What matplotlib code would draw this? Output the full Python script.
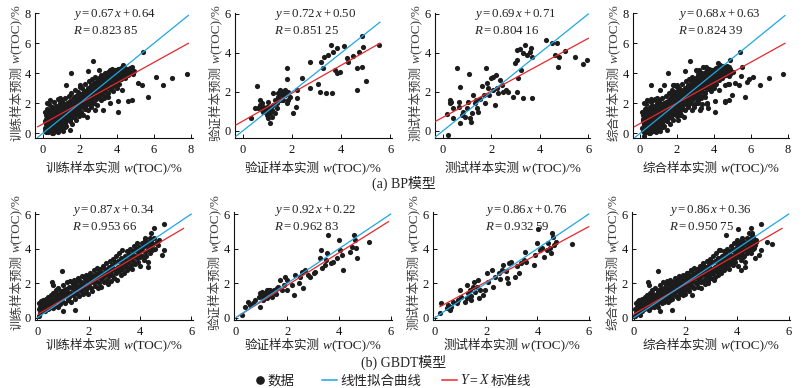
import numpy as np
import matplotlib
matplotlib.use("Agg")
import matplotlib.pyplot as plt
from matplotlib.lines import Line2D

plt.rcParams['font.family'] = ['Liberation Serif', 'Noto Sans CJK SC']
plt.rcParams['mathtext.fontset'] = 'custom'
plt.rcParams['mathtext.rm'] = 'Liberation Serif'
plt.rcParams['mathtext.it'] = 'Liberation Serif:italic'

# ---------------- data ----------------
bp_train = np.array([
    (0.12,0.35),(0.15,0.8),(0.18,1.2),(0.2,0.1),(0.22,0.55),(0.25,1.6),(0.28,0.9),(0.3,0.3),(0.32,1.95),(0.35,0.65),
    (0.38,1.1),(0.4,0.2),(0.42,1.45),(0.45,0.85),(0.48,0.45),(0.5,1.3),(0.52,1.75),(0.55,0.05),(0.58,0.7),(0.6,1.05),
    (0.62,2.1),(0.65,1.5),(0.68,0.35),(0.7,0.95),(0.72,1.85),(0.75,1.2),(0.78,0.6),(0.8,2.3),(0.82,1.6),(0.85,0.25),
    (0.88,1.0),(0.9,1.4),(0.92,2.0),(0.95,0.75),(0.98,1.75),(1.0,0.45),(1.0,1.2),(1.02,2.2),(1.05,0.9),(1.08,1.55),
    (1.1,0.15),(1.12,1.9),(1.15,1.3),(1.18,0.7),(1.2,2.35),(1.22,1.05),(1.25,1.65),(1.28,0.5),(1.3,2.0),(1.32,1.4),
    (1.35,0.95),(1.38,1.8),(1.4,2.5),(1.42,1.2),(1.45,0.8),(1.48,1.55),(1.5,2.15),(1.5,1.0),(1.52,1.85),(1.55,2.7),
    (1.58,1.35),(1.6,0.6),(1.62,2.3),(1.65,1.7),(1.68,1.1),(1.7,2.05),(1.72,2.9),(1.75,1.5),(1.78,0.9),(1.8,2.5),
    (1.82,1.9),(1.85,1.3),(1.88,2.2),(1.9,2.75),(1.92,1.6),(1.95,2.0),(1.98,1.15),(2.0,2.4),(2.0,3.2),(2.02,1.8),
    (2.05,2.15),(2.08,1.45),(2.1,2.6),(2.12,3.0),(2.15,1.95),(2.18,2.35),(2.2,1.2),(2.22,2.8),(2.25,2.1),(2.28,1.65),
    (2.3,3.3),(2.32,2.45),(2.35,1.9),(2.38,2.7),(2.4,2.25),(2.42,3.05),(2.45,1.55),(2.48,2.55),(2.5,2.0),(2.5,3.5),
    (2.52,2.85),(2.55,2.3),(2.58,3.2),(2.6,1.85),(2.62,2.65),(2.65,3.6),(2.68,2.1),(2.7,2.95),(2.72,2.45),(2.75,3.35),
    (2.78,2.0),(2.8,2.8),(2.82,3.75),(2.85,2.3),(2.88,3.1),(2.9,2.6),(2.92,3.5),(2.95,1.9),(2.98,2.9),(3.0,3.3),
    (3.02,2.4),(3.05,3.7),(3.08,2.75),(3.1,3.1),(3.12,2.2),(3.15,3.9),(3.18,2.95),(3.2,3.4),(3.22,2.6),(3.25,3.75),
    (3.28,3.0),(3.3,2.35),(3.32,3.55),(3.35,4.0),(3.38,2.85),(3.4,3.25),(3.42,2.5),(3.45,3.85),(3.48,3.1),(3.5,3.6),
    (3.52,2.7),(3.55,4.1),(3.58,3.35),(3.6,3.8),(3.62,2.95),(3.65,4.2),(3.68,3.5),(3.7,3.05),(3.72,3.95),(3.75,4.3),
    (3.78,3.3),(3.8,3.7),(3.82,2.8),(3.85,4.05),(3.88,3.45),(3.9,4.25),(3.92,3.15),(3.95,3.85),(3.98,4.0),(4.0,3.55),
    (4.05,4.3),(4.08,3.75),(4.1,3.3),(4.12,4.1),(4.15,3.9),(4.2,4.35),(4.22,3.6),(4.25,4.0),(4.3,3.8),(4.32,4.2),
    (4.38,3.95),(4.4,4.4),(4.45,3.7),(4.5,4.1),(4.55,4.3),(4.6,3.9),(4.65,4.2),(4.7,4.35),(4.75,4.05),(4.8,4.25),
    (4.85,3.95),(4.9,4.15),
    (0.2,0.6),(0.3,1.0),(0.35,0.2),(0.4,0.8),(0.45,1.2),(0.5,0.5),(0.55,1.0),(0.6,0.4),(0.65,0.8),(0.7,1.3),
    (0.75,0.5),(0.8,1.0),(0.85,1.7),(0.9,0.6),(0.95,1.2),(1.0,1.6),(1.05,0.6),(1.1,1.0),(1.15,1.6),(1.2,0.9),
    (1.25,1.3),(1.3,1.1),(1.35,1.6),(1.4,1.0),(1.45,1.4),(1.5,1.7),(1.55,1.2),(1.6,1.9),(1.65,1.45),(1.7,1.8),
    (1.75,2.2),(1.8,1.6),(1.85,2.0),(1.9,1.4),(1.95,2.3),(2.0,1.9),(2.05,2.6),(2.1,1.8),(2.15,2.3),(2.2,2.0),
    (2.25,2.6),(2.3,2.2),(2.35,2.5),(2.4,2.0),(2.45,2.8),(2.5,2.4),(2.55,2.7),(2.6,2.3),(2.65,2.9),(2.7,2.6),
    (2.8,3.1),(2.9,2.8),(3.0,3.0),(3.1,3.4),(3.2,3.2),(3.3,3.5),(3.4,3.4),(3.5,3.9),(3.6,3.6),(3.7,4.1),
    (3.8,3.9),(3.9,3.7),(4.0,4.2),
    (0.25,0.35),(0.4,1.6),(0.55,1.45),(0.6,0.75),(0.7,0.15),(0.75,1.55),(0.9,1.1),(1.0,0.85),(1.12,1.45),(1.25,0.95),
    (1.3,1.75),(1.4,1.35),(1.55,1.6),(1.6,1.1),(1.7,1.35),(1.75,1.85),(1.9,1.8),(2.05,1.75),(2.15,2.1),(2.3,1.75),
    (0.15,0.15),(0.18,0.95),(0.25,1.25),(0.3,0.6),(0.35,1.4),(0.42,0.3),(0.5,0.9),(0.55,1.6),(0.62,0.25),(0.68,1.1),
    (0.72,0.75),(0.78,1.35),(0.82,0.4),(0.88,1.85),(0.92,1.3),(0.98,0.3),(1.05,1.4),(1.08,2.0),(1.15,0.85),(1.18,1.5),
    (1.22,0.4),(1.28,1.9),(1.35,1.25),(1.42,2.1),(1.48,0.9),(1.52,1.35),(1.58,2.05),(1.62,1.55),(1.68,2.4),(1.72,1.25),
    (1.78,2.05),(1.82,1.45),(1.88,1.75),(1.92,2.15),(1.98,2.55),(2.12,2.25),(2.2,2.5),(2.28,2.85),(2.38,2.15),(2.45,2.4),
    (2.58,2.55),(2.68,2.75),(2.78,3.05),(2.88,2.45),(2.98,3.15),(3.08,2.95),(3.18,3.55),(3.28,3.3),(3.38,3.7),(3.48,3.45),
    (3.58,3.95),(3.68,3.75),(3.78,4.05),(3.88,4.15),(3.98,3.85),(4.1,4.05),(4.25,4.2),(4.4,4.15),(4.55,3.95),(4.7,4.0),
    (5.4,5.44),(2.73,4.82),(1.53,4.0),(2.46,4.16),(3.04,4.22),(6.12,3.73),(6.51,3.22),(7.0,3.67),(7.77,3.96),(5.67,2.44),
    (4.8,2.22),(4.62,2.18),(4.08,1.44),(5.16,3.33),(5.34,3.22),(4.26,2.89),(4.03,3.0),(3.54,2.44),(3.27,1.55),(3.09,2.56),
    (2.82,1.56),(2.6,1.78),(2.37,1.11),(1.47,0.22),(1.2,0.67),(0.85,0.1),(0.49,0.0),(0.31,0.11),(0.12,1.44),(0.22,2.0),
    (0.4,2.22),(0.94,2.33),(1.28,3.25),(2.01,3.11),(4.8,4.44),(4.89,4.11),(4.35,4.56),(3.63,2.0),(4.08,2.18),
])

bp_val = np.array([
    (0.33,0.65),(0.57,2.3),(0.5,1.16),(0.7,1.6),(0.77,1.42),(0.84,1.25),(0.9,1.0),(0.98,0.82),(1.04,0.65),(1.11,0.39),
    (1.04,1.5),(1.18,1.08),(1.25,1.93),(1.31,0.9),(1.38,1.42),(1.45,1.76),(1.52,2.1),(1.58,1.59),(1.65,2.02),(1.72,1.85),
    (1.79,2.67),(1.82,3.21),(1.86,1.59),(1.92,1.76),(2.06,0.9),(2.17,1.25),(2.19,1.68),(2.22,2.1),(2.4,2.7),(2.74,3.56),
    (2.74,2.19),(3.08,2.41),(3.14,2.02),(3.2,3.56),(3.25,3.21),(3.3,3.78),(3.38,1.93),(3.48,3.9),(3.58,4.41),(3.62,1.93),
    (3.68,4.07),(3.75,3.13),(3.82,4.24),(3.82,2.96),(3.96,3.04),(4.12,4.36),(4.23,3.73),(4.3,3.56),(4.47,3.85),(4.63,2.1),
    (4.63,3.21),(4.74,4.07),(4.84,3.3),(4.86,4.87),(4.9,4.32),(5.0,2.58),(5.55,4.41),
    (0.64,1.16),(0.7,1.33),(0.77,1.08),(0.84,0.99),(0.98,1.08),(0.98,1.25),(1.11,0.9),(1.18,0.74),(1.11,1.16),(1.25,1.33),
    (1.31,1.59),(1.38,1.16),(1.45,1.93),(1.52,1.59),(1.58,1.85),(1.65,1.59),(1.72,2.1),(1.79,1.42),(1.86,2.02),
])

bp_test = np.array([
    (0.23,-0.2),(0.16,0.87),(0.3,1.59),(0.33,1.5),(0.3,1.42),(0.44,1.16),(0.41,0.65),(0.58,3.21),(0.65,1.5),(0.69,1.25),
    (0.71,2.24),(0.71,0.39),(0.78,0.82),(0.85,0.99),(0.92,0.74),(0.99,1.16),(1.06,1.5),(1.1,2.92),(1.13,0.65),(1.15,0.48),
    (1.2,0.9),(1.24,1.85),(1.33,1.42),(1.37,1.59),(1.4,1.16),(1.47,0.99),(1.54,1.62),(1.6,2.31),(1.68,1.85),(1.74,1.42),
    (1.79,3.21),(1.81,2.44),(1.88,2.19),(1.92,1.85),(1.98,2.7),(2.06,2.79),(2.09,2.1),(2.16,1.33),(2.2,2.87),(2.25,2.19),
    (2.29,1.93),(2.36,2.62),(2.43,2.36),(2.5,2.02),(2.61,2.1),(2.71,2.02),(2.91,1.76),(3.05,2.02),(3.12,2.7),(2.98,3.47),
    (3.05,3.64),(3.08,4.15),(3.19,4.19),(3.21,3.13),(3.3,3.98),(3.32,1.68),(3.39,4.41),(3.46,3.9),(3.6,4.07),(3.63,4.24),
    (3.69,1.68),(3.66,3.81),(4.24,4.67),(4.49,4.5),(4.63,3.9),(4.7,4.5),(4.77,3.3),(4.81,3.81),(5.04,4.12),(5.45,3.81),
    (5.77,3.44),(5.93,3.64),
])

gb_train = np.array([
    (0.05,0.5),(0.08,0.85),(0.1,0.3),(0.12,0.65),(0.15,0.95),(0.18,0.45),(0.2,0.75),(0.22,1.05),(0.25,0.55),(0.28,0.85),
    (0.3,0.4),(0.32,1.1),(0.35,0.7),(0.38,0.95),(0.4,0.5),(0.42,1.2),(0.45,0.8),(0.48,1.0),(0.5,0.6),(0.52,1.3),
    (0.55,0.85),(0.58,1.1),(0.6,0.55),(0.62,1.45),(0.65,0.9),(0.68,1.2),(0.7,0.7),(0.72,1.6),(0.75,1.0),(0.78,1.3),
    (0.8,0.6),(0.82,1.75),(0.85,1.1),(0.88,1.4),(0.9,0.8),(0.92,1.55),(0.95,1.2),(0.98,0.95),(1.0,1.5),(1.02,1.9),
    (1.05,1.25),(1.08,0.85),(1.1,1.65),(1.12,1.35),(1.15,2.05),(1.18,1.0),(1.2,1.5),(1.22,1.8),(1.25,1.2),(1.28,2.1),
    (1.3,1.45),(1.32,0.9),(1.35,1.7),(1.38,1.95),(1.4,1.3),(1.42,2.2),(1.45,1.6),(1.48,1.1),(1.5,1.85),(1.52,2.05),
    (1.55,1.4),(1.58,1.7),(1.6,2.3),(1.62,1.25),(1.65,1.9),(1.68,2.15),(1.7,1.55),(1.72,1.8),(1.75,2.4),(1.78,1.35),
    (1.8,2.0),(1.82,1.7),(1.85,2.25),(1.88,1.5),(1.9,2.5),(1.92,1.85),(1.95,2.1),(1.98,1.4),(2.0,2.35),(2.02,1.95),
    (2.05,2.6),(2.08,1.7),(2.1,2.2),(2.12,2.45),(2.15,1.55),(2.18,2.05),(2.2,2.75),(2.22,2.3),(2.25,1.85),(2.28,2.55),
    (2.3,2.1),(2.32,2.9),(2.35,1.7),(2.38,2.4),(2.4,2.65),(2.42,2.0),(2.45,2.85),(2.48,2.25),(2.5,1.8),(2.52,2.6),
    (2.55,3.0),(2.58,2.35),(2.6,2.05),(2.62,2.8),(2.65,2.5),(2.68,3.15),(2.7,2.2),(2.72,2.7),(2.75,1.95),(2.78,2.95),
    (2.8,2.4),(2.82,3.3),(2.85,2.65),(2.88,2.1),(2.9,3.05),(2.92,2.5),(2.95,3.4),(2.98,2.8),(3.0,2.3),(3.02,3.2),
    (3.05,2.6),(3.08,3.6),(3.1,2.9),(3.12,2.2),(3.15,3.3),(3.18,2.7),(3.2,3.75),(3.22,3.0),(3.25,2.45),(3.28,3.45),
    (3.3,2.85),(3.32,3.9),(3.35,3.15),(3.38,2.6),(3.4,3.6),(3.42,3.0),(3.45,3.35),(3.48,2.75),(3.5,3.85),(3.52,3.2),
    (3.55,2.9),(3.58,3.7),(3.6,3.4),(3.62,4.0),(3.65,3.05),(3.68,3.55),(3.7,2.8),(3.72,3.85),(3.75,3.3),(3.78,4.15),
    (3.8,3.6),(3.82,3.1),(3.85,3.95),(3.88,3.45),(3.9,4.3),(3.92,3.2),(3.95,3.75),(3.98,4.1),(4.0,3.5),(4.02,3.0),
    (4.05,3.9),(4.08,4.35),(4.1,3.6),(4.12,4.1),(4.15,3.35),(4.18,4.5),(4.2,3.8),(4.22,4.2),(4.25,3.55),(4.28,4.4),
    (4.3,3.95),(4.32,3.2),(4.35,4.3),(4.38,4.6),(4.4,3.75),(4.42,4.15),(4.45,4.45),(4.48,3.9),(4.5,4.25),(4.55,4.6),
    (4.6,4.0),(4.65,4.4),(4.7,4.2),(4.75,4.5),
    (0.15,0.6),(0.3,0.75),(0.45,0.55),(0.6,0.95),(0.75,1.35),(0.9,1.05),(1.05,1.6),(1.2,1.15),(1.35,1.4),(1.5,1.5),
    (1.65,1.65),(1.8,1.85),(1.95,1.75),(2.1,2.4),(2.25,2.2),(2.4,2.35),(2.55,2.45),(2.7,2.55),(2.85,2.9),(3.0,2.75),
    (3.15,2.95),(3.3,3.2),(3.45,3.1),(3.6,3.55),(3.75,3.6),(3.9,3.85),
    (0.95,2.7),(4.92,5.42),(4.86,3.63),(4.92,3.92),(4.3,2.92),(1.47,0.45),(1.02,0.4),(0.23,0.93),(4.53,5.17),(4.2,4.6),
    (4.45,4.9),(0.56,2.08),(0.6,1.9),(0.05,0.1),
])

gb_val = np.array([
    (0.23,0.15),(0.36,0.6),(0.49,0.93),(0.55,0.73),(0.68,0.83),(0.75,1.02),(0.88,1.22),(0.92,0.64),(0.94,1.41),(1.01,1.51),
    (1.07,1.02),(1.14,1.41),(1.2,1.6),(1.2,1.12),(1.26,1.31),(1.33,1.6),(1.39,1.22),(1.46,1.6),(1.52,1.41),(1.59,1.7),
    (1.65,1.8),(1.72,2.18),(1.78,1.6),(1.85,1.89),(1.91,2.34),(1.97,2.18),(2.0,1.6),(2.17,1.89),(2.26,1.31),(2.3,2.49),
    (2.43,1.99),(2.49,2.37),(2.55,2.66),(2.62,1.7),(2.68,2.76),(2.81,2.47),(2.88,2.37),(3.01,2.57),(3.07,2.66),(3.26,3.44),
    (3.3,3.92),(3.33,2.86),(3.46,3.05),(3.5,3.34),(3.53,3.73),(3.59,4.79),(3.68,3.15),(3.78,3.24),(3.91,3.44),(4.0,4.5),
    (4.04,3.92),(4.1,3.63),(4.14,2.76),(4.43,3.82),(4.49,4.11),(4.58,4.79),(4.62,4.5),(4.66,4.02),(4.68,3.44),(5.14,4.4),
    (1.05,1.25),(1.1,1.3),(1.25,1.6),(1.33,1.4),(1.45,1.5),(1.55,1.36),(1.17,1.3),
])

gb_test = np.array([
    (0.26,0.83),(0.2,0.25),(0.46,0.54),(0.52,0.73),(0.59,0.44),(0.65,0.64),(0.72,0.93),(0.85,0.83),(0.91,1.02),(0.98,1.6),
    (1.04,1.22),(1.17,0.93),(1.24,1.12),(1.26,1.89),(1.3,1.41),(1.37,1.6),(1.4,1.02),(1.43,1.25),(1.5,1.8),(1.53,2.08),
    (1.56,1.51),(1.63,1.8),(1.69,2.18),(1.73,1.12),(1.76,1.6),(1.89,1.31),(1.96,1.6),(2.05,2.57),(2.09,2.08),(2.22,2.76),
    (2.26,1.8),(2.35,2.37),(2.52,2.57),(2.54,2.22),(2.61,2.76),(2.67,3.05),(2.78,2.72),(2.83,2.28),(2.87,1.99),(2.91,3.18),
    (2.96,3.24),(3.13,2.37),(3.22,2.99),(3.3,2.61),(3.36,3.15),(3.46,3.34),(3.52,3.82),(3.55,3.24),(3.85,3.05),(3.91,3.63),
    (4.0,4.3),(4.04,5.12),(4.11,3.92),(4.17,4.02),(4.24,3.53),(4.37,3.92),(4.43,4.3),(4.5,4.02),(4.56,4.88),(4.6,4.69),
    (4.65,4.21),(4.73,4.4),(5.35,4.27),(4.52,3.73),
])

bp_all = np.concatenate([bp_train, bp_val, bp_test])
gb_all = np.concatenate([gb_train, gb_val, gb_test])

panel_data = [bp_train, bp_val, bp_test, bp_all, gb_train, gb_val, gb_test, gb_all]
set_names = ['训练', '验证', '测试', '综合', '训练', '验证', '测试', '综合']
eq_slope = ['0.67', '0.72', '0.69', '0.68', '0.87', '0.92', '0.86', '0.86']
eq_icpt = ['0.64', '0.50', '0.71', '0.63', '0.34', '0.22', '0.76', '0.36']
eq_r = ['0.823 85', '0.851 25', '0.804 16', '0.824 39', '0.953 66', '0.962 83', '0.932 59', '0.950 75']
captions = ['(a) BP模型', '(b) GBDT模型']
legend_labels = ['数据', '线性拟合曲线', '标准线']

# drawn lines: (x0, y0, x1, y1)
fit_red = [(-0.27, 0.44, 7.86, 6.0), (-0.27, 0.31, 5.58, 4.5), (-0.32, 0.48, 6.0, 4.75), (-0.31, 0.44, 7.85, 6.0),
           (0.04, 0.21, 5.70, 5.17), (0.10, 0.10, 5.91, 5.56), (0.20, 0.64, 6.0, 5.27), (0.0, 0.21, 5.74, 5.17)]
std_blue = [(-0.27, 7.86), (-0.27, 5.58), (-0.32, 6.0), (-0.31, 7.85),
            (0.0, 6.0), (0.0, 6.0), (0.0, 6.0), (0.0, 6.0)]

xlims = [(-0.415, 8.11), (-0.31, 6.05), (-0.32, 6.07), (-0.38, 8.07),
         (-0.09, 6.07), (-0.07, 6.05), (-0.07, 6.05), (-0.07, 6.05)]
ylims = [(-0.31, 8.02), (-0.36, 6.05), (-0.36, 6.05), (-0.31, 8.02),
         (-0.13, 6.12), (-0.13, 6.12), (-0.13, 6.12), (-0.13, 6.12)]
ticks = [[0, 2, 4, 6, 8], [0, 2, 4, 6], [0, 2, 4, 6], [0, 2, 4, 6, 8],
         [0, 2, 4, 6], [0, 2, 4, 6], [0, 2, 4, 6], [0, 2, 4, 6]]

# ---------------- layout (pixels) ----------------
W, H = 802, 388
boxes = [(35, 193, 13, 138), (235, 391.5, 13, 138), (435, 590, 13, 138), (633, 789, 13, 138),
         (35, 193, 212, 320), (234, 392, 212, 320), (433, 590, 212, 320), (632, 790, 212, 320)]
eq_pos = [(72.7, 15), (274, 15), (474, 15), (678, 15),
          (71.7, 210), (274, 210), (485, 210), (669, 210)]

BLUE = '#1ea6e3'
RED = '#e5282c'
DOT = '#1c1c1c'
TXT = '#222222'
YTXT = '#3a3a3a'

CJK = dict(family=['Noto Sans CJK SC'], fontsize=9)
LAT = dict(family=['Liberation Serif'], fontsize=9.5)
LIT = dict(family=['Liberation Serif'], style='italic', fontsize=9.5)

fig = plt.figure(figsize=(W / 100, H / 100), dpi=100)
renderer = fig.canvas.get_renderer()


def fx(px):
    return px / W


def fy(py):
    return 1 - py / H


def measure(s, kw):
    t = fig.text(0, 0, s, **kw)
    w = t.get_window_extent(renderer).width
    t.remove()
    return w


def rich(x, y, pieces, rot=0, align='center', color=TXT):
    """pieces: list of (string, style dict, gap_after_px); y is baseline (horizontal) / x baseline (vertical)."""
    widths = [measure(s, kw) for s, kw, g in pieces]
    total = sum(widths) + sum(g for _, _, g in pieces[:-1])
    if rot == 0:
        pos = x - total / 2 if align == 'center' else x
        for (s, kw, g), w in zip(pieces, widths):
            fig.text(fx(pos), fy(y), s, ha='left', va='baseline', color=color, **kw)
            pos += w + g
    else:
        pos = y + total / 2 if align == 'center' else y
        for (s, kw, g), w in zip(pieces, widths):
            fig.text(fx(x), fy(pos), s, ha='left', va='baseline', rotation=90,
                     rotation_mode='anchor', color=color, **kw)
            pos -= w + g


for i in range(8):
    l, r, t, b = boxes[i]
    ax = fig.add_axes([fx(l), fy(b), (r - l) / W, (b - t) / H])
    d = panel_data[i]
    ax.scatter(d[:, 0], d[:, 1], s=14, c=DOT, linewidths=0, zorder=2)
    x0, y0, x1, y1 = fit_red[i]
    ax.plot([x0, x1], [y0, y1], color=RED, lw=0.9, zorder=3)
    bx0, bx1 = std_blue[i]
    ax.plot([bx0, bx1], [bx0, bx1], color=BLUE, lw=0.9, zorder=4)
    ax.set_xlim(*xlims[i])
    ax.set_ylim(*ylims[i])
    ax.set_xticks(ticks[i])
    ax.set_yticks(ticks[i])
    for s in ['top', 'right']:
        ax.spines[s].set_visible(False)
    for s in ['left', 'bottom']:
        ax.spines[s].set_linewidth(0.8)
        ax.spines[s].set_color('#111111')
    ax.tick_params(direction='in', length=3, width=0.7, labelsize=9, colors='#111111', pad=3)
    ax.tick_params(axis='x', pad=4)
    for lab in ax.get_xticklabels() + ax.get_yticklabels():
        lab.set_family('Liberation Serif')

    cx = (l + r) / 2
    ly = b + 34 if i < 4 else b + 29
    rich(cx, ly, [(set_names[i] + '样本实测', CJK, 3), ('w', LIT, 0), ('(TOC)/%', LAT, 0)])
    ycen = (t + b) / 2 - 3 if i < 4 else (t + b) / 2 - 4
    rich(l - 15, ycen, [(set_names[i] + '样本预测', CJK, 3), ('w', LIT, 0), ('(TOC)/%', LAT, 0)],
         rot=90, color=YTXT)

    ex, ey = eq_pos[i]
    fig.text(fx(ex), fy(ey), '$y = %s\\,x + %s$' % (eq_slope[i], eq_icpt[i]), ha='left', va='center',
             fontsize=9.3, color=TXT)
    fig.text(fx(ex), fy(ey + 16.5), '$R = %s$' % eq_r[i].replace(' ', '\\ '), ha='left', va='center',
             fontsize=9.3, color=TXT)

fig.text(fx(404), fy(183), captions[0], ha='center', va='center', fontsize=10, color=TXT)
fig.text(fx(404), fy(362), captions[1], ha='center', va='center', fontsize=10, color=TXT)

# ---------------- manual legend ----------------
LCJK = dict(family=['Noto Sans CJK SC'], fontsize=9.7)
LLAT = dict(family=['Liberation Serif'], fontsize=10)
LLIT = dict(family=['Liberation Serif'], style='italic', fontsize=10)
ly = 380
fig.add_artist(Line2D([fx(260)], [fy(ly)], marker='o', ms=5.2, color=DOT, ls='none',
                      transform=fig.transFigure))
rich(267, ly + 4.5, [(legend_labels[0], LCJK, 0)], align='left')
fig.add_artist(Line2D([fx(322), fx(337)], [fy(ly), fy(ly)], color=BLUE, lw=1.1, transform=fig.transFigure))
rich(340, ly + 4.5, [(legend_labels[1], LCJK, 0)], align='left')
fig.add_artist(Line2D([fx(442), fx(457)], [fy(ly), fy(ly)], color=RED, lw=1.1, transform=fig.transFigure))
rich(460, ly + 4.5, [('Y', LLIT, 2), ('=', LLAT, 2), ('X', LLIT, 3), (legend_labels[2], LCJK, 0)], align='left')

fig.savefig('out.png', dpi=100)
